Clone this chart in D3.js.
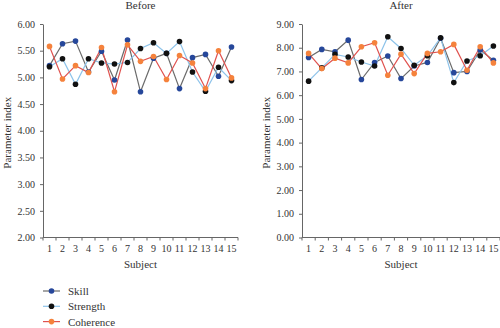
<!DOCTYPE html>
<html>
<head>
<meta charset="utf-8">
<script src="https://cdn.jsdelivr.net/npm/d3@7"></script>
<style>
  body { margin: 0; background: #fff; }
  svg { display: block; font-family: "Liberation Serif", "DejaVu Serif", serif; }
  .axis path, .axis line { stroke: #666; }
  .axis text { fill: #333; font-size: 10px; font-family: "Liberation Serif", serif; }
  .label { fill: #333; font-size: 11px; }
</style>
</head>
<body>
<svg id="chart" width="500" height="328"></svg>
<script>
  const subjects = d3.range(1, 16);

  const beforeSkill = [5.22, 5.63, 5.68, 5.10, 5.49, 4.95, 5.70, 4.73, 5.36, 5.45, 4.79, 5.37, 5.43, 5.02, 5.57];
  const beforeStrength = [5.20, 5.35, 4.87, 5.35, 5.27, 5.25, 5.28, 5.54, 5.65, 5.45, 5.67, 5.10, 4.74, 5.19, 4.94];
  const beforeCoherence = [5.58, 4.97, 5.22, 5.09, 5.56, 4.73, 5.61, 5.30, 5.39, 4.96, 5.41, 5.27, 4.79, 5.50, 4.99];

  const afterSkill = [7.59, 7.93, 7.83, 8.32, 6.66, 7.38, 7.65, 6.70, 7.23, 7.38, 8.40, 6.95, 7.00, 7.90, 7.47];
  const afterStrength = [6.59, 7.15, 7.72, 7.61, 7.40, 7.23, 8.46, 7.97, 7.26, 7.66, 8.42, 6.53, 7.44, 7.66, 8.07];
  const afterCoherence = [7.76, 7.12, 7.56, 7.36, 8.04, 8.21, 6.84, 7.73, 6.91, 7.76, 7.83, 8.14, 7.05, 8.04, 7.36];

  const beforeTicks = [2, 2.5, 3, 3.5, 4, 4.5, 5, 5.5, 6];
  const afterTicks = [0, 1, 2, 3, 4, 5, 6, 7, 8, 9];

  // line colour / marker colour per series (as in the legend)
  const seriesNames = ["Skill", "Strength", "Coherence"];
  const lineColors = ["#6b6b6b", "#8dc3ea", "#e0524f"];
  const dotColors = ["#26479a", "#111111", "#f5823c"];

  const svg = d3.select("#chart");

  function panel(opts) {
    const { x0, x1, y0, y1, domain, ticks, series, title } = opts;
    const g = svg.append("g");

    const x = d3.scaleBand().domain(subjects).range([x0, x1]);
    const y = d3.scaleLinear().domain(domain).range([y1, y0]);

    // y axis
    g.append("g")
      .attr("class", "axis")
      .attr("transform", `translate(${x0},0)`)
      .call(d3.axisLeft(y).tickValues(ticks).tickFormat(d3.format(".2f")).tickSize(3).tickSizeOuter(0))
      .call((a) => a.selectAll("text").attr("dx", "-2"));

    // x axis: ticks on band boundaries
    const xa = g.append("g")
      .attr("class", "axis")
      .attr("transform", `translate(0,${y1})`);
    xa.append("line")
      .attr("x1", x0).attr("x2", x1)
      .attr("y1", 0).attr("y2", 0);
    xa.selectAll(".tk")
      .data(subjects.concat([16]))
      .enter()
      .append("line")
      .attr("x1", (d) => (d === 16 ? x1 : x(d)))
      .attr("x2", (d) => (d === 16 ? x1 : x(d)))
      .attr("y1", 0).attr("y2", 3);
    xa.selectAll("text")
      .data(subjects)
      .enter()
      .append("text")
      .attr("x", (d) => x(d) + x.bandwidth() / 2)
      .attr("y", 14)
      .attr("text-anchor", "middle")
      .text((d) => d);

    g.append("text").attr("class", "label")
      .attr("x", (x0 + x1) / 2).attr("y", 268)
      .attr("text-anchor", "middle").text("Subject");

    g.append("text").attr("class", "label")
      .attr("transform", `translate(${x0 - 32},${(y0 + y1) / 2 + 2}) rotate(-90)`)
      .attr("text-anchor", "middle").text("Parameter index");

    g.append("text").attr("class", "label")
      .attr("x", (x0 + x1) / 2).attr("y", 9)
      .attr("text-anchor", "middle").text(title);

    const line = d3.line()
      .x((d, i) => x(subjects[i]) + x.bandwidth() / 2)
      .y((d) => y(d));

    series.forEach((vals, k) => {
      g.append("path")
        .datum(vals)
        .attr("fill", "none")
        .attr("stroke", lineColors[k])
        .attr("stroke-width", 1.2)
        .attr("d", line);
    });
    series.forEach((vals, k) => {
      g.selectAll(null)
        .data(vals)
        .enter()
        .append("circle")
        .attr("cx", (d, i) => x(subjects[i]) + x.bandwidth() / 2)
        .attr("cy", (d) => y(d))
        .attr("r", 2.8)
        .attr("fill", dotColors[k]);
    });
  }

  panel({
    x0: 43, x1: 238, y0: 24, y1: 237.5,
    domain: [2, 6], ticks: beforeTicks,
    series: [beforeSkill, beforeStrength, beforeCoherence],
    title: "Before",
  });

  panel({
    x0: 302, x1: 500, y0: 24, y1: 237.5,
    domain: [0, 9], ticks: afterTicks,
    series: [afterSkill, afterStrength, afterCoherence],
    title: "After",
  });

  // legend
  const legend = svg.append("g");
  seriesNames.forEach((name, k) => {
    const ly = 291 + k * 15.3;
    legend.append("line")
      .attr("x1", 43).attr("x2", 60)
      .attr("y1", ly).attr("y2", ly)
      .attr("stroke", lineColors[k]).attr("stroke-width", 1.2);
    legend.append("circle")
      .attr("cx", 51.5).attr("cy", ly).attr("r", 2.8)
      .attr("fill", dotColors[k]);
    legend.append("text").attr("class", "label")
      .attr("x", 68).attr("y", ly + 4)
      .text(name);
  });
</script>
</body>
</html>
